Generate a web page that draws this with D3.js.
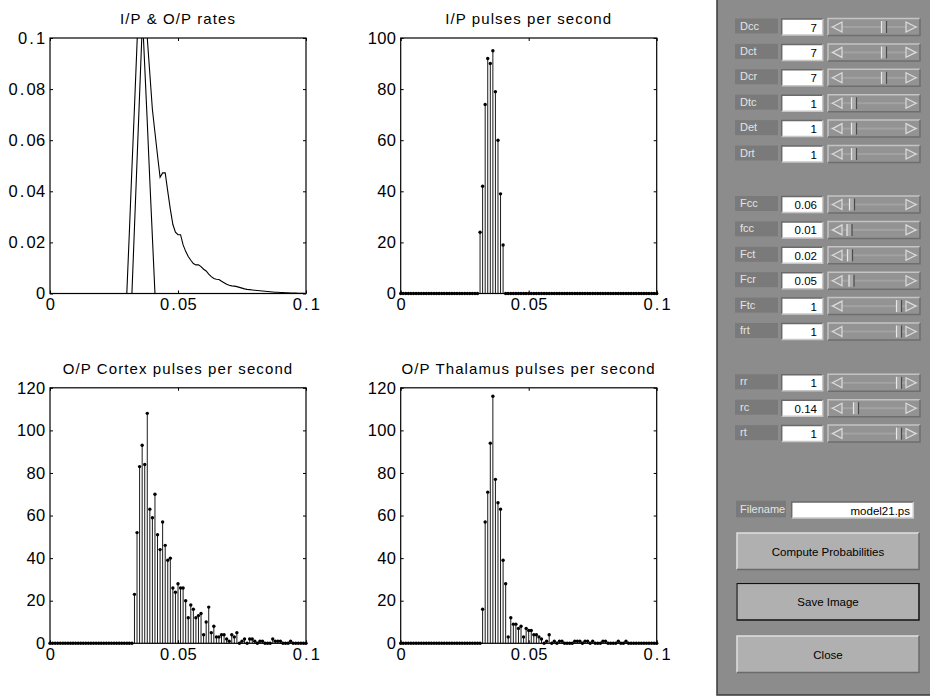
<!DOCTYPE html>
<html><head><meta charset="utf-8">
<script src="https://cdn.jsdelivr.net/npm/d3@7"></script>
<style>body{margin:0;background:#fff}svg{display:block}</style>
</head><body><svg id="c" width="930" height="696"></svg>
<script>
// ---------------- DATA ----------------
// sample times: 0 .. 0.1 s in 1 ms steps
const times = d3.range(0, 101).map(i => i / 1000);

const inputRate = [
 0,0,0,0,0,0,0,0,0,0, 0,0,0,0,0,0,0,0,0,0, 0,0,0,0,0,0,0,0,0,0,
 0,0.024,0.049,0.073,0.098,0.122,0.111,0.089,0.067,0.044,
 0.022,0,0,0,0,0,0,0,0,0, 0,0,0,0,0,0,0,0,0,0, 0,0,0,0,0,0,0,0,0,0,
 0,0,0,0,0,0,0,0,0,0, 0,0,0,0,0,0,0,0,0,0, 0,0,0,0,0,0,0,0,0,0, 0];

const outputRate = [
 0,0,0,0,0,0,0,0,0,0, 0,0,0,0,0,0,0,0,0,0, 0,0,0,0,0,0,0,0,0,0,
 0,0,0,0.026,0.052,0.078,0.104,0.118,0.100,0.086,
 0.072,0.063,0.054,0.0455,0.0472,0.0472,0.040,0.033,0.027,0.024,
 0.023,0.023,0.019,0.0165,0.0145,0.013,0.0117,0.0112,0.0112,0.0105,
 0.0095,0.0088,0.0076,0.0066,0.0059,0.0056,0.0055,0.0048,0.0042,0.0036,
 0.0032,0.0030,0.0029,0.0027,0.0024,0.0021,0.0018,0.0016,0.0015,0.0014,
 0.0013,0.0012,0.0011,0.0010,0.0009,0.0008,0.0007,0.0006,0.0005,0.0005,
 0.0004,0.0004,0.0003,0.0003,0.0002,0.0002,0.0002,0.0001,0.0001,0.0001, 0];

const inputPulses = [
 0,0,0,0,0,0,0,0,0,0, 0,0,0,0,0,0,0,0,0,0, 0,0,0,0,0,0,0,0,0,0,
 0,24,42,74,92,90,95,79,60,39,
 19,0,0,0,0,0,0,0,0,0, 0,0,0,0,0,0,0,0,0,0, 0,0,0,0,0,0,0,0,0,0,
 0,0,0,0,0,0,0,0,0,0, 0,0,0,0,0,0,0,0,0,0, 0,0,0,0,0,0,0,0,0,0, 0];

const cortexPulses = [
 0,0,0,0,0,0,0,0,0,0, 0,0,0,0,0,0,0,0,0,0, 0,0,0,0,0,0,0,0,0,0,
 0,0,0,23,52,83,93,84,108,63,
 59,70,51,44,57,46,39,40,26,24,
 28,26,26,20,12,18,16,12,13,14,
 4,10,17,5,8,3,3,4,4,2,
 1,4,3,5,0,1,2,0,2,2,
 1,0,1,1,0,0,0,2,1,1,
 1,0,0,0,1,0,0,0,0,0, 0];

const thalamusPulses = [
 0,0,0,0,0,0,0,0,0,0, 0,0,0,0,0,0,0,0,0,0, 0,0,0,0,0,0,0,0,0,0,
 0,0,16,57,71,94,116,77,66,63,
 39,28,3,12,9,9,7,8,3,7,
 6,6,4,4,3,2,0,1,4,0,
 1,0,1,1,0,0,0,0,1,1,
 1,0,1,1,0,1,0,0,0,1,
 1,0,0,0,0,1,0,0,1,0,
 0,0,0,0,0,0,0,0,0,0, 0];

const xTicks = [0, 0.05, 0.1];
const rateTicks = [0, 0.02, 0.04, 0.06, 0.08, 0.1];
const inputTicks = [0, 20, 40, 60, 80, 100];
const outputTicks = [0, 20, 40, 60, 80, 100, 120];

const titles = ["I/P & O/P rates", "I/P pulses per second",
                "O/P Cortex pulses per second", "O/P Thalamus pulses per second"];

// control panel
const paramNames  = ["Dcc","Dct","Dcr","Dtc","Det","Drt","Fcc","fcc","Fct","Fcr","Ftc","frt","rr","rc","rt"];
const paramValues = [7,7,7,1,1,1,0.06,0.01,0.02,0.05,1,1,1,0.14,1];
const paramMin    = [0,0,0,0,0,0,0,0,0,0,0,0,0,0,0];
const paramMax    = [10,10,10,10,10,10,1,1,1,1,1,1,1,1,1];
const paramGroup  = [0,0,0,0,0,0,1,1,1,1,1,1,2,2,2];
const fileLabel = "Filename";
const fileName = "model21.ps";
const buttonLabels = ["Compute Probabilities", "Save Image", "Close"];

// ---------------- DRAW ----------------
const svg = d3.select("#c");
svg.append("rect").attr("width",930).attr("height",696).attr("fill","#fff");
const FONT = "'Liberation Sans', Arial, Helvetica, sans-serif";
const W = 256, H = 255.5;

const panels = [
  {left:50,    top:38,    kind:"line", series:[inputRate, outputRate], yMax:0.1, yTicks:rateTicks},
  {left:400.7, top:38,    kind:"stem", series:[inputPulses],   yMax:100, yTicks:inputTicks},
  {left:50,    top:387.8, kind:"stem", series:[cortexPulses],  yMax:120, yTicks:outputTicks},
  {left:400.7, top:387.8, kind:"stem", series:[thalamusPulses],yMax:120, yTicks:outputTicks}
];

const fmt = d3.format("~g");

function styleText(sel) {
  sel.selectAll("text")
    .attr("font-family", FONT).attr("font-size", 16.5).attr("letter-spacing", 0.3).attr("fill","#000")
    .each(function() {
      const t = d3.select(this), s = t.text();
      if (s.includes(".")) {
        const parts = s.split(".");
        t.text(null);
        t.append("tspan").text(parts[0]);
        t.append("tspan").attr("dx", 1.8).text(".");
        t.append("tspan").attr("dx", 1.8).text(parts[1]);
      }
    });
}

panels.forEach((p, k) => {
  const g = svg.append("g").attr("transform", `translate(${p.left},${p.top})`);
  const x = d3.scaleLinear().domain([0, 0.1]).range([0, W]);
  const y = d3.scaleLinear().domain([0, p.yMax]).range([H, 0]);

  const cid = "clip" + k;
  g.append("clipPath").attr("id", cid).append("rect").attr("width", W).attr("height", H);

  if (p.kind === "line") {
    const line = d3.line().x((d, i) => x(times[i])).y(d => y(d));
    p.series.forEach(s => {
      g.append("path").attr("d", line(s)).attr("fill","none")
        .attr("stroke","#000").attr("stroke-width",1.1).attr("clip-path", `url(#${cid})`);
    });
  } else {
    const s = p.series[0];
    const sg = g.append("g");
    sg.selectAll("line.stem").data(s).join("line").attr("class","stem")
      .attr("x1",(d,i)=>x(times[i])).attr("x2",(d,i)=>x(times[i]))
      .attr("y1",y(0)).attr("y2",d=>y(d))
      .attr("stroke","#000").attr("stroke-width",0.9);
    sg.selectAll("circle").data(s).join("circle")
      .attr("cx",(d,i)=>x(times[i])).attr("cy",d=>y(d)).attr("r",1.7).attr("fill","#000");
  }

  const gl = g.append("g").call(d3.axisLeft(y).tickValues(p.yTicks).tickSize(-3).tickPadding(4.5).tickFormat(fmt));
  const gr = g.append("g").attr("transform",`translate(${W},0)`)
      .call(d3.axisRight(y).tickValues(p.yTicks).tickSize(-3).tickFormat(""));
  const gb = g.append("g").attr("transform",`translate(0,${H})`)
      .call(d3.axisBottom(x).tickValues(xTicks).tickSize(-3).tickPadding(4.5).tickFormat(fmt));
  const gt = g.append("g").call(d3.axisTop(x).tickValues(xTicks).tickSize(-3).tickFormat(""));
  [gl, gr, gb, gt].forEach(a => { a.select(".domain").remove(); a.selectAll("line").attr("stroke","#000"); });
  styleText(gl); styleText(gb);

  g.append("rect").attr("width",W).attr("height",H).attr("fill","none")
    .attr("stroke","#000").attr("stroke-width",1.2);

  g.append("text").attr("x", W/2).attr("y", -14).attr("text-anchor","middle")
    .attr("font-family", FONT).attr("font-size", 15).attr("letter-spacing", 1.1)
    .text(titles[k]);
});

// ---------------- CONTROL PANEL ----------------
const cp = svg.append("g");
cp.append("rect").attr("x",717).attr("y",-2).attr("width",215).attr("height",697)
  .attr("fill","#8c8c8c").attr("stroke","#3a3a3a").attr("stroke-width",1.5);

function bevel(g, x0, y0, w, h, fill, light, dark) {
  g.append("rect").attr("x",x0).attr("y",y0).attr("width",w).attr("height",h).attr("fill",fill);
  g.append("path").attr("d",`M${x0},${y0+h}V${y0}H${x0+w}`).attr("fill","none").attr("stroke",light).attr("stroke-width",1.5);
  g.append("path").attr("d",`M${x0+w},${y0}V${y0+h}H${x0}`).attr("fill","none").attr("stroke",dark).attr("stroke-width",1.5);
}

const groupStart = [27, 204.5, 382.8];
const rowStep = 25.4;
paramNames.forEach((name, i) => {
  const before = paramGroup.slice(0, i).filter(gp => gp === paramGroup[i]).length;
  const cy = groupStart[paramGroup[i]] + before * rowStep;
  const r = cp.append("g");
  r.append("rect").attr("x",735).attr("y",cy-8.5).attr("width",43).attr("height",15).attr("fill","#7a7a7a");
  r.append("text").attr("x",740).attr("y",cy+2.5).attr("font-family",FONT).attr("font-size",11)
    .attr("fill","#e4e4e4").text(name);
  bevel(r, 781.7, cy-8, 41, 16, "#ffffff", "#6a6a6a", "#c8c8c8");
  r.append("text").attr("x",817).attr("y",cy+4.5).attr("text-anchor","end")
    .attr("font-family",FONT).attr("font-size",11.5).attr("fill","#000").text(String(paramValues[i]));
  bevel(r, 828, cy-8.5, 92, 17, "#939393", "#c4c4c4", "#6e6e6e");
  r.append("rect").attr("x",830).attr("y",cy-1).attr("width",88).attr("height",2).attr("fill","#a2a2a2");
  r.append("path").attr("d",`M842,${cy-5}L832.5,${cy}L842,${cy+5}Z`).attr("fill","#9a9a9a")
    .attr("stroke","#dcdcdc").attr("stroke-width",1.2);
  r.append("path").attr("d",`M906,${cy-5}L916,${cy}L906,${cy+5}Z`).attr("fill","#9a9a9a")
    .attr("stroke","#dcdcdc").attr("stroke-width",1.2);
  const sx = d3.scaleLinear().domain([paramMin[i], paramMax[i]]).range([849, 899]);
  const tx = sx(paramValues[i]);
  r.append("rect").attr("x",tx-2.5).attr("y",cy-6).attr("width",5).attr("height",12).attr("fill","#a8a8a8");
  r.append("line").attr("x1",tx-2.5).attr("x2",tx-2.5).attr("y1",cy-6).attr("y2",cy+6).attr("stroke","#e8e8e8").attr("stroke-width",1.2);
  r.append("line").attr("x1",tx+2.5).attr("x2",tx+2.5).attr("y1",cy-6).attr("y2",cy+6).attr("stroke","#4a4a4a").attr("stroke-width",1.2);
});

cp.append("rect").attr("x",736).attr("y",500.7).attr("width",50).attr("height",16.6).attr("fill","#7a7a7a");
cp.append("text").attr("x",740).attr("y",512.5).attr("font-family",FONT).attr("font-size",11)
  .attr("fill","#e4e4e4").text(fileLabel);
bevel(cp, 791.7, 502, 121.6, 16, "#ffffff", "#6a6a6a", "#c8c8c8");
cp.append("text").attr("x",910).attr("y",514.5).attr("text-anchor","end")
  .attr("font-family",FONT).attr("font-size",11.5).attr("fill","#000").text(fileName);

const btnTop = [533, 583.5, 636];
buttonLabels.forEach((lab, i) => {
  const y0 = btnTop[i];
  bevel(cp, 737, y0, 182, 36.5, "#b0b0b0", "#e0e0e0", "#6a6a6a");
  if (i === 1) cp.append("rect").attr("x",737).attr("y",y0).attr("width",182).attr("height",36.5)
      .attr("fill","none").attr("stroke","#111").attr("stroke-width",1.3);
  cp.append("text").attr("x",828).attr("y",y0+22.5).attr("text-anchor","middle")
    .attr("font-family",FONT).attr("font-size",11.5).attr("fill","#000").text(lab);
});
</script></body></html>
